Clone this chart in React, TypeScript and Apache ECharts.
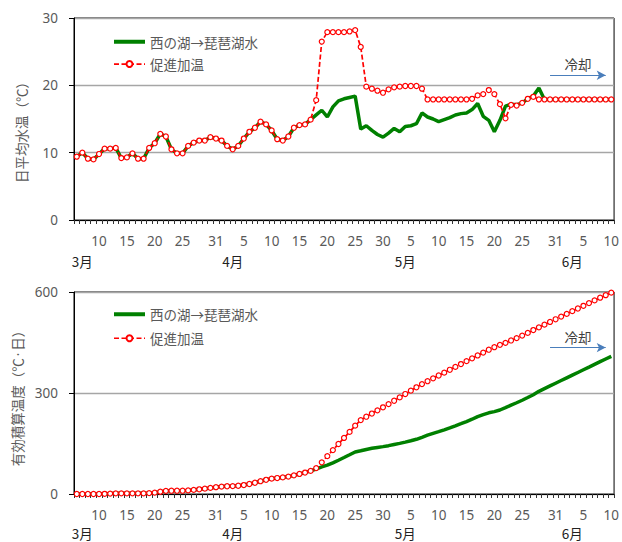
import React, { useEffect, useRef } from "react";
import * as echarts from "echarts";

const FONT_NUM = "'Noto Sans', 'Noto Sans CJK JP', sans-serif";
const FONT_JP = "'Noto Sans CJK JP', 'Noto Sans', sans-serif";

// ---- categories (daily, 3/6 .. 6/10)
const monthRanges = [
  { month: 3, first: 6, last: 31 },
  { month: 4, first: 1, last: 30 },
  { month: 5, first: 1, last: 31 },
  { month: 6, first: 1, last: 10 },
];
const categories: string[] = [];
monthRanges.forEach((r) => {
  for (let d = r.first; d <= r.last; d++) categories.push(`${r.month}/${d}`);
});

// day-number tick labels shown under the axis
const dayTickLabels = [
  "3/10", "3/15", "3/20", "3/25", "3/31",
  "4/5", "4/10", "4/15", "4/20", "4/25", "4/30",
  "5/5", "5/10", "5/15", "5/20", "5/25", "5/31",
  "6/5", "6/10",
];
// month labels (second row)
const monthLabels: Record<string, string> = {
  "3/7": "3月",
  "4/3": "4月",
  "5/4": "5月",
  "6/3": "6月",
};

const seriesLake = "西の湖→琵琶湖水";
const seriesHeated = "促進加温";

// 日平均水温 (℃)
const tempHeated = [
  9.4, 10.0, 9.1, 9.0, 9.8, 10.6, 10.6, 10.7, 9.2, 9.3, 9.9, 9.1, 9.1, 10.7, 11.4, 12.8, 12.4, 10.5, 9.9, 9.9, 11.0, 11.5, 11.8, 11.8, 12.3, 12.1,
  11.8, 11.0, 10.5, 11.0, 12.1, 13.1, 13.7, 14.6, 14.2, 13.3, 12.0, 11.8, 12.4, 13.7, 14.1, 14.2, 14.9, 17.8, 26.5, 27.9, 27.9, 27.9, 27.9, 28.0, 28.2, 25.7, 19.8, 19.5, 19.2, 18.9,
  19.4, 19.7, 19.8, 19.9, 19.9, 19.9, 19.5, 17.9, 17.9, 17.9, 17.9, 17.9, 17.9, 17.9, 17.9, 18.0, 18.5, 18.7, 19.3, 18.7, 17.2, 15.1, 17.1, 17.0, 17.4, 18.0, 18.3, 17.9, 17.9, 17.9, 17.9,
  17.9, 17.9, 17.9, 17.9, 17.9, 17.9, 17.9, 17.9, 17.9, 17.9,
];
const tempLake = [
  9.4, 10.0, 9.1, 9.0, 9.8, 10.6, 10.6, 10.7, 9.2, 9.3, 9.9, 9.1, 9.1, 10.7, 11.4, 12.8, 12.4, 10.5, 9.9, 9.9, 11.0, 11.5, 11.8, 11.8, 12.3, 12.1,
  11.8, 11.0, 10.5, 11.0, 12.1, 13.1, 13.7, 14.6, 14.2, 13.3, 12.0, 11.8, 12.4, 13.7, 14.1, 14.2, 14.9, 15.6, 16.3, 15.3, 16.8, 17.7, 18.0, 18.2, 18.4, 13.5, 14.0, 13.3, 12.7, 12.3,
  12.9, 13.6, 13.1, 13.9, 14.0, 14.3, 15.9, 15.3, 15.0, 14.6, 14.9, 15.2, 15.6, 15.8, 15.9, 16.4, 17.3, 15.4, 14.8, 13.1, 14.8, 16.9, 17.2, 17.1, 17.4, 18.0, 18.4, 19.6, 17.9, 17.9, 17.9,
  17.9, 17.9, 17.9, 17.9, 17.9, 17.9, 17.9, 17.9, 17.9, 17.9,
];

// 有効積算温度 (℃・日)
const cumHeated = [
  0, 0, 0, 0, 0, 0.6, 1.2, 1.9, 1.9, 1.9, 1.9, 1.9, 1.9, 2.6, 4.0, 6.8, 9.2, 9.7, 9.7, 9.7, 10.7, 12.2, 14.0, 15.8, 18.1, 20.2,
  22.0, 23.0, 23.5, 24.5, 26.6, 29.7, 33.4, 38.0, 42.2, 45.5, 47.5, 49.3, 51.7, 55.4, 59.5, 63.7, 68.6, 77, 94, 112.5, 130.5, 148.5, 166.5, 184.5, 203, 219.5, 229.5, 239, 248.5, 257.5,
  267, 277, 287, 297, 307, 317, 326.5, 335, 343.5, 352, 360.5, 369, 377.5, 386, 394.5, 403, 411.5, 420, 428.5, 436, 443, 449, 456, 463, 470.5, 478.5, 487, 495, 503, 511, 519,
  527, 535, 543, 551, 559, 567, 575, 583, 590.5, 598,
];
const cumLake = [
  0, 0, 0, 0, 0, 0.6, 1.2, 1.9, 1.9, 1.9, 1.9, 1.9, 1.9, 2.6, 4.0, 6.8, 9.2, 9.7, 9.7, 9.7, 10.7, 12.2, 14.0, 15.8, 18.1, 20.2,
  22.0, 23.0, 23.5, 24.5, 26.6, 29.7, 33.4, 38.0, 42.2, 45.5, 47.5, 49.3, 51.7, 55.4, 59.5, 63.7, 68.6, 74.2, 80.5, 85.8, 92.6, 100.3, 108.3, 116.5, 124.9, 128.4, 132.4, 135.7, 138.4, 140.7,
  143.6, 147.2, 150.3, 154.2, 158.2, 162.5, 168.5, 174.7, 180.2, 185.3, 190.7, 196.4, 202.5, 208.8, 215.2, 222.1, 229.9, 235.8, 241.1, 244.7, 249.5, 256.5, 264, 271, 278.5, 286.5, 295, 305, 313, 321, 329,
  337, 345, 353, 361, 369, 377, 385, 393, 401, 409,
];

// 冷却 arrow
const coolingLabel = "冷却";
const coolingFrom = "5/30";
const coolingTo = "6/9";
const coolingTempLevel = 21.5;
const coolingCumLevel = 435;

const GRAY = "#595959";

function dayAxis(gridIndex: number, monthMargin: number) {
  return [
    {
      gridIndex,
      type: "category",
      data: categories,
      boundaryGap: true,
      axisLine: { show: true, onZero: false, lineStyle: { color: "#000", width: 1 } },
      axisTick: { show: true, interval: 0, length: 4, lineStyle: { color: "#333" } },
      axisLabel: {
        interval: (_i: number, v: string) => dayTickLabels.includes(v),
        formatter: (v: string) => v.split("/")[1],
        color: GRAY,
        fontSize: 13.5,
        fontFamily: FONT_NUM,
        margin: 14,
      },
      splitLine: { show: false },
    },
    {
      gridIndex,
      type: "category",
      data: categories,
      boundaryGap: true,
      position: "bottom",
      axisLine: { show: false, onZero: false },
      axisTick: { show: false },
      axisLabel: {
        interval: (_i: number, v: string) => v in monthLabels,
        formatter: (v: string) => monthLabels[v] || "",
        color: "#222",
        fontSize: 13.5,
        fontFamily: FONT_JP,
        margin: monthMargin,
      },
      splitLine: { show: false },
    },
  ];
}

function valueAxis(gridIndex: number, max: number, interval: number, name: string, pad: number) {
  return {
    gridIndex,
    type: "value",
    min: 0,
    max,
    interval,
    name,
    nameLocation: "middle",
    nameGap: 46,
    nameRotate: 90,
    nameTextStyle: { color: GRAY, fontSize: 13.5, fontFamily: FONT_JP, padding: [0, pad, 0, 0] },
    axisLine: { show: true, lineStyle: { color: "#000", width: 1 } },
    axisTick: { show: true, length: 5, lineStyle: { color: "#000" } },
    axisLabel: { color: GRAY, fontSize: 13.5, fontFamily: FONT_NUM, margin: 16 },
    splitLine: { show: true, lineStyle: { color: "#a6a6a6", width: 1.3 } },
  };
}

function coolMark(level: number) {
  return {
    silent: true,
    symbol: ["none", "arrow"],
    symbolSize: [7, 9],
    lineStyle: { color: "#4a7ebb", width: 1, type: "solid" },
    label: {
      show: true,
      position: "middle",
      formatter: coolingLabel,
      color: "#404040",
      fontSize: 13.5,
      fontFamily: FONT_JP,
      distance: 4,
    },
    emphasis: { disabled: true },
    data: [[{ coord: [coolingFrom, level] }, { coord: [coolingTo, level] }]],
  };
}

function lakeSeries(xAxisIndex: number, yAxisIndex: number, data: number[], level: number) {
  return {
    name: seriesLake,
    type: "line",
    xAxisIndex,
    yAxisIndex,
    data,
    showSymbol: false,
    symbol: "none",
    lineStyle: { color: "#008000", width: 3.5 },
    itemStyle: { color: "#008000" },
    z: 2,
    markLine: coolMark(level),
  };
}

function heatedSeries(xAxisIndex: number, yAxisIndex: number, data: number[]) {
  return {
    name: seriesHeated,
    type: "line",
    xAxisIndex,
    yAxisIndex,
    data,
    showSymbol: true,
    showAllSymbol: true,
    symbol: "circle",
    symbolSize: 5,
    lineStyle: { color: "#ff0000", width: 1.7, type: [5, 2.5] },
    itemStyle: { color: "#ffffff", borderColor: "#ff0000", borderWidth: 1.2 },
    z: 3,
  };
}

function legendAt(top: number, gap: number) {
  return {
    orient: "vertical",
    left: 107,
    top,
    itemWidth: 31,
    itemHeight: 7.5,
    itemGap: gap,
    selectedMode: false,
    lineStyle: { width: "inherit" },
    data: [
      {
        name: seriesLake,
        itemStyle: { color: "rgba(0,0,0,0)", borderWidth: 0, borderColor: "rgba(0,0,0,0)" },
        lineStyle: { width: 4 },
      },
      { name: seriesHeated },
    ],
    textStyle: { color: GRAY, fontSize: 13.5, fontFamily: FONT_JP },
  };
}

export default function App() {
  const ref = useRef<HTMLDivElement>(null);
  useEffect(() => {
    document.body.style.margin = "0";
    if (!ref.current) return;
    const chart = echarts.init(ref.current, undefined, { renderer: "svg" });
    const xAxes = [...dayAxis(0, 34), ...dayAxis(1, 32.5)];
    chart.setOption({
      animation: false,
      backgroundColor: "#ffffff",
      textStyle: { fontFamily: FONT_JP },
      grid: [
        { left: 74, top: 18, width: 541, height: 202, show: true, borderColor: "#000", borderWidth: 1, backgroundColor: "transparent" },
        { left: 74, top: 292, width: 541, height: 202, show: true, borderColor: "#000", borderWidth: 1, backgroundColor: "transparent" },
      ],
      legend: [legendAt(30, 8.8), legendAt(302.5, 10.5)],
      xAxis: xAxes,
      yAxis: [
        valueAxis(0, 30, 10, "日平均水温（℃）", 20),
        valueAxis(1, 600, 300, "有効積算温度（℃·日）", 4),
      ],
      series: [
        lakeSeries(0, 0, tempLake, coolingTempLevel),
        heatedSeries(0, 0, tempHeated),
        lakeSeries(2, 1, cumLake, coolingCumLevel),
        heatedSeries(2, 1, cumHeated),
      ],
    });
    return () => chart.dispose();
  }, []);
  return <div ref={ref} style={{ width: 622, height: 542 }} />;
}
